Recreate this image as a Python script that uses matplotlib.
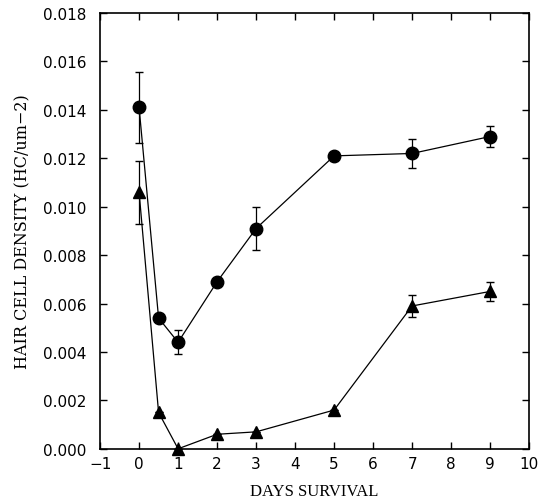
import matplotlib.pyplot as plt
import numpy as np

days = [0, 0.5, 1, 2, 3, 5, 7, 9]

circle_density = [0.0141, 0.0054, 0.0044, 0.0069, 0.0091, 0.0121, 0.0122, 0.0129]
circle_err = [0.00145, 0, 0.0005, 0, 0.0009, 0, 0.0006, 0.00045]

triangle_density = [0.0106, 0.0015, 0.0000, 0.0006, 0.0007, 0.0016, 0.0059, 0.0065]
triangle_err = [0.0013, 0, 0, 0, 0, 0, 0.00045, 0.0004]

xticks = list(range(-1, 11))
yticks = np.arange(0, 0.0181, 0.002)

fig = plt.figure(figsize=(5.41, 5.02), dpi=100)
ax = fig.add_axes([0.185, 0.104, 0.793, 0.868])

ax.errorbar(days, circle_density, yerr=circle_err, fmt='-o', color='black',
            markersize=9, linewidth=0.9, elinewidth=0.9, capsize=3)
ax.errorbar(days, triangle_density, yerr=triangle_err, fmt='-^', color='black',
            markersize=8, linewidth=0.9, elinewidth=0.9, capsize=3, clip_on=False)

ax.set_xlim(-1, 10)
ax.set_ylim(0, 0.018)
ax.set_xticks(xticks)
ax.set_yticks(yticks)
ax.set_yticklabels([f"{v:.3f}" for v in yticks])
ax.tick_params(direction='in', top=True, right=True, length=5, width=1,
               labelsize=11)
ax.tick_params(axis='y', pad=10)
ax.tick_params(axis='x', pad=5)
for lab in ax.get_xticklabels() + ax.get_yticklabels():
    lab.set_fontfamily('DejaVu Sans')
for s in ax.spines.values():
    s.set_linewidth(1.2)

ax.set_xlabel("DAYS SURVIVAL", fontfamily='Liberation Serif', fontsize=12,
              labelpad=9)
ax.set_ylabel("HAIR CELL DENSITY (HC/um\u22122)", fontfamily='DejaVu Serif',
              fontsize=11.5, labelpad=8)

fig.savefig("out.png", dpi=100)
